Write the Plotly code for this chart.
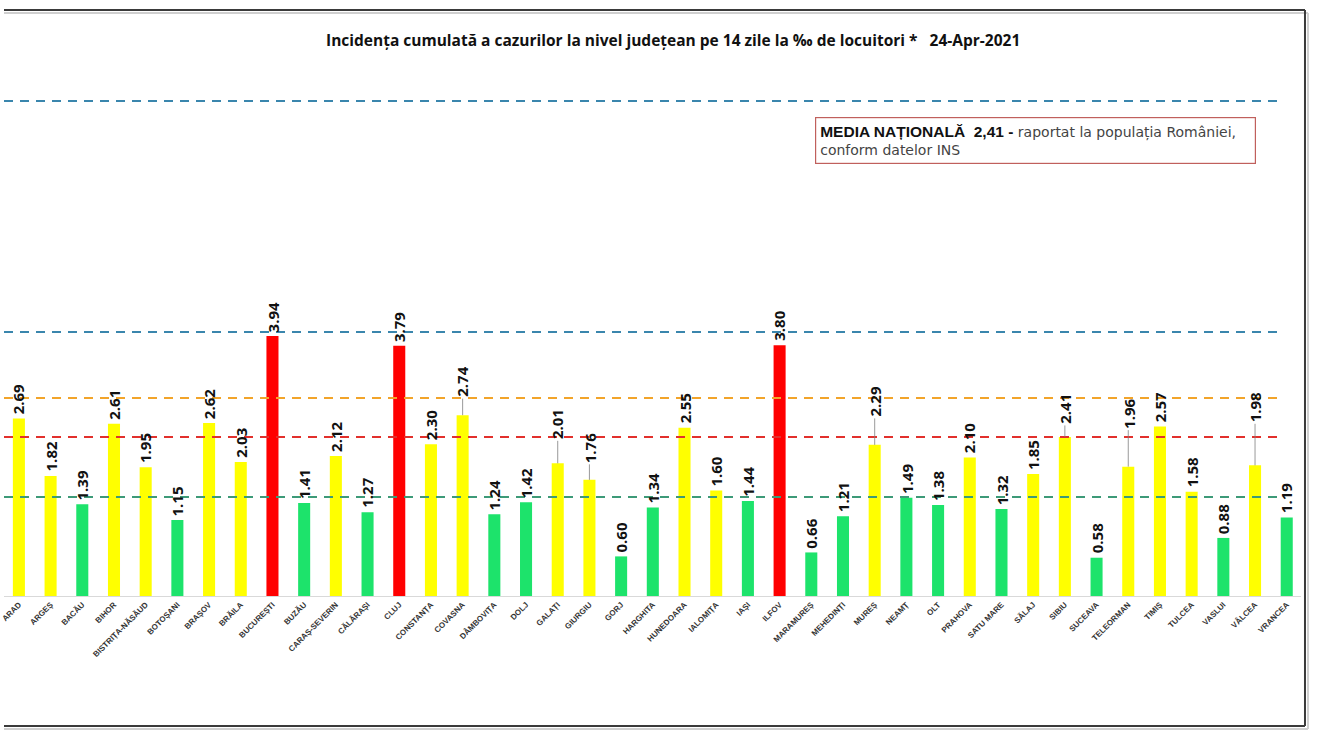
import plotly.graph_objects as go

counties = ["ARAD", "ARGEȘ", "BACĂU", "BIHOR", "BISTRIȚA-NĂSĂUD", "BOTOȘANI", "BRAȘOV", "BRĂILA",
            "BUCUREȘTI", "BUZĂU", "CARAȘ-SEVERIN", "CĂLĂRAȘI", "CLUJ", "CONSTANȚA", "COVASNA",
            "DÂMBOVIȚA", "DOLJ", "GALAȚI", "GIURGIU", "GORJ", "HARGHITA", "HUNEDOARA", "IALOMIȚA",
            "IAȘI", "ILFOV", "MARAMUREȘ", "MEHEDINȚI", "MUREȘ", "NEAMȚ", "OLT", "PRAHOVA",
            "SATU MARE", "SĂLAJ", "SIBIU", "SUCEAVA", "TELEORMAN", "TIMIȘ", "TULCEA", "VASLUI",
            "VÂLCEA", "VRANCEA"]
values = [2.69, 1.82, 1.39, 2.61, 1.95, 1.15, 2.62, 2.03, 3.94, 1.41, 2.12, 1.27, 3.79, 2.30, 2.74,
          1.24, 1.42, 2.01, 1.76, 0.60, 1.34, 2.55, 1.60, 1.44, 3.80, 0.66, 1.21, 2.29, 1.49, 1.38,
          2.10, 1.32, 1.85, 2.41, 0.58, 1.96, 2.57, 1.58, 0.88, 1.98, 1.19]
thresholds = [1.5, 2.41, 3.0, 4.0, 7.5]
title_text = "Incidența cumulată a cazurilor la nivel județean pe 14 zile la ‰ de locuitori *   24-Apr-2021"

# styles
threshold_colors = ["#3d9a78", "#e2302c", "#f2a42a", "#3a86ad", "#3a86ad"]
GREEN, YELLOW, RED = "#1de36b", "#ffff00", "#ff0000"
leader = {"COVASNA": 17, "GALAȚI": 23, "GIURGIU": 16, "MUREȘ": 27, "SIBIU": 12,
          "TELEORMAN": 37, "VÂLCEA": 42}

def bar_color(v):
    if v < 1.5:
        return GREEN
    if v <= 3.0:
        return YELLOW
    return RED

W, H = 1320, 743
ML, MR, MT, MB = 0, 19, 68, 147
PW, PH = W - ML - MR, H - MT - MB
BASE = MT + PH

def px_x(x):
    return (x - ML) / PW

def px_y(y):
    return (BASE - y) / PH

idx = list(range(len(counties)))
fig = go.Figure()
fig.add_trace(go.Bar(x=idx, y=values, width=0.38,
                     marker=dict(color=[bar_color(v) for v in values], line=dict(width=0)),
                     hoverinfo="x+y"))

shapes = []
for t, c in zip(thresholds, threshold_colors):
    shapes.append(dict(type="line", xref="x", yref="y", x0=-0.47, x1=39.89, y0=t, y1=t,
                       line=dict(color=c, width=2, dash="9px,7px"), layer="above"))

def frame_line(x0, y0, x1, y1, color, width):
    return dict(type="line", xref="paper", yref="paper", x0=px_x(x0), y0=px_y(y0),
                x1=px_x(x1), y1=px_y(y1), line=dict(color=color, width=width), layer="above")

# outer frame (top, right, bottom) with soft shadow
shapes += [
    frame_line(0, 13, 1308, 13, "#cfcfcf", 2),
    frame_line(1308, 13, 1308, 729, "#cfcfcf", 2),
    frame_line(0, 729, 1308, 729, "#cfcfcf", 2),
    frame_line(0, 10, 1305, 10, "#3a3a3a", 2),
    frame_line(1305, 10, 1305, 726, "#3a3a3a", 2),
    frame_line(0, 726, 1305, 726, "#3a3a3a", 2),
]

LABEL_FONT = dict(family="Open Sans", size=15, color="#111111")
annotations = []
for i, (c, v) in enumerate(zip(counties, values)):
    txt = "<b>%.2f</b>" % v
    if c in leader:
        annotations.append(dict(x=i, y=v, xref="x", yref="y", text=txt, textangle=-90,
                                showarrow=True, arrowhead=0, arrowwidth=0.8, arrowcolor="#7f7f7f",
                                ax=0, ay=-(leader[c] + 16), standoff=0, font=LABEL_FONT))
    else:
        annotations.append(dict(x=i, y=v, xref="x", yref="y", text=txt, textangle=-90,
                                showarrow=False, xanchor="center", yanchor="bottom", yshift=2,
                                font=LABEL_FONT))

annotations.append(dict(x=px_x(671), y=px_y(40), xref="paper", yref="paper", text="<b>" + title_text + "</b>",
                        showarrow=False, xanchor="center", yanchor="middle",
                        font=dict(family="Open Sans", size=15.5, color="#111111")))
annotations.append(dict(x=px_x(813), y=px_y(117), xref="paper", yref="paper",
                        text="<b><span style='font-family:Liberation Sans;font-size:15.5px;color:#111'>"
                             "MEDIA NAȚIONALĂ  2,41 -</span></b>"
                             " raportat la populația României,<br>conform datelor INS",
                        showarrow=False, xanchor="left", yanchor="top", align="left",
                        width=431, height=37, borderwidth=1.2, bordercolor="#c0605c", borderpad=4,
                        bgcolor="white",
                        font=dict(family="DejaVu Sans", size=14, color="#444444")))

fig.update_layout(
    width=W, height=H, margin=dict(l=ML, r=MR, t=MT, b=MB),
    paper_bgcolor="white", plot_bgcolor="white", showlegend=False,
    shapes=shapes, annotations=annotations,
    xaxis=dict(range=[-0.47, 40.45], tickmode="array", tickvals=idx, ticktext=counties,
               tickangle=-45, ticklabeloverflow="allow",
               tickfont=dict(family="Liberation Sans", size=8, color="#333333", weight="bold"),
               showline=True, linecolor="#d9d9d9", linewidth=1, showgrid=False, ticks="", zeroline=False),
    yaxis=dict(range=[0, 8], visible=False, showgrid=False, zeroline=False),
)
fig.write_html("out.html")
